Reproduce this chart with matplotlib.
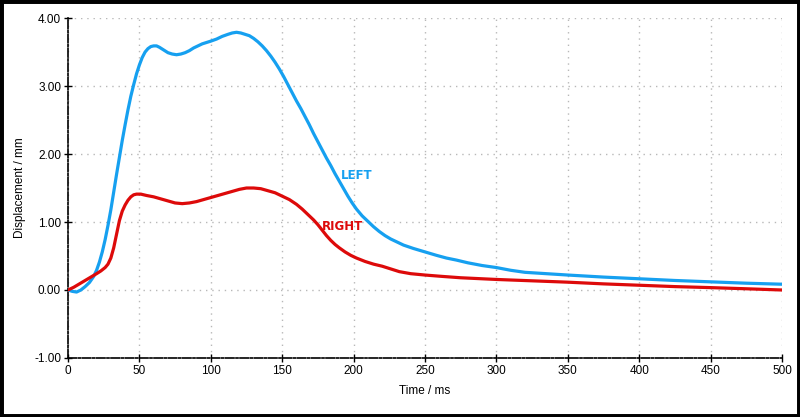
import matplotlib
matplotlib.use("Agg")
import matplotlib.pyplot as plt
from matplotlib.patches import Rectangle

left_t = [0, 3, 6, 9, 12, 15, 18, 20, 22, 24, 26, 28, 30, 32, 34, 36, 38, 40, 42, 44, 46,
          48, 50, 52, 54, 56, 58, 60, 62, 64, 67, 70, 73, 76, 79, 82, 85, 88, 91, 94, 97,
          100, 104, 108, 112, 115, 118, 121, 124, 127, 130, 133, 136, 139, 142, 145, 148,
          151, 154, 157, 160, 163, 166, 169, 172, 175, 178, 181, 184, 187, 190, 193, 196,
          199, 202, 206, 210, 214, 218, 222, 226, 230, 235, 242, 250, 258, 265, 272, 280,
          290, 300, 310, 320, 335, 350, 375, 400, 425, 450, 475, 500]
left_y = [0.0, -0.02, -0.03, 0.0, 0.05, 0.11, 0.20, 0.29, 0.41, 0.56, 0.74, 0.95, 1.18,
          1.44, 1.70, 1.95, 2.2, 2.43, 2.65, 2.85, 3.02, 3.18, 3.31, 3.42, 3.5, 3.55, 3.58,
          3.59, 3.59, 3.57, 3.53, 3.49, 3.47, 3.46, 3.47, 3.49, 3.52, 3.56, 3.59, 3.62, 3.64,
          3.66, 3.69, 3.73, 3.76, 3.78, 3.79, 3.78, 3.76, 3.74, 3.70, 3.65, 3.59, 3.52, 3.44,
          3.35, 3.25, 3.14, 3.02, 2.90, 2.78, 2.67, 2.55, 2.43, 2.3, 2.18, 2.06, 1.94, 1.83,
          1.71, 1.6, 1.49, 1.38, 1.28, 1.19, 1.09, 1.01, 0.93, 0.86, 0.80, 0.75, 0.71, 0.66,
          0.61, 0.56, 0.51, 0.47, 0.44, 0.40, 0.36, 0.33, 0.29, 0.26, 0.24, 0.22, 0.19,
          0.165, 0.14, 0.12, 0.10, 0.085]

right_t = [0, 4, 8, 12, 16, 20, 23, 26, 28, 30, 32, 34, 36, 38, 40, 42, 44, 46, 48, 51, 55,
           60, 65, 70, 75, 80, 85, 90, 95, 100, 105, 110, 115, 120, 125, 130, 135, 140,
           145, 150, 155, 160, 164, 168, 172, 175, 178, 181, 184, 187, 190, 194, 198, 202,
           208, 214, 220, 226, 232, 240, 250, 262, 275, 300, 325, 350, 375, 400, 425, 450,
           475, 500]
right_y = [0.0, 0.04, 0.09, 0.14, 0.19, 0.24, 0.28, 0.33, 0.38, 0.47, 0.62, 0.82, 1.02,
           1.16, 1.25, 1.32, 1.37, 1.40, 1.41, 1.41, 1.39, 1.37, 1.34, 1.31, 1.28, 1.27,
           1.28, 1.30, 1.33, 1.36, 1.39, 1.42, 1.45, 1.48, 1.50, 1.50, 1.49, 1.46, 1.43,
           1.38, 1.33, 1.26, 1.19, 1.11, 1.03, 0.96, 0.88, 0.80, 0.73, 0.67, 0.62, 0.56,
           0.51, 0.47, 0.42, 0.38, 0.35, 0.31, 0.27, 0.24, 0.22, 0.20, 0.18, 0.155, 0.135,
           0.115, 0.09, 0.07, 0.05, 0.035, 0.018, 0.0]

x_ticks = list(range(0, 501, 50))
y_ticks = [-1, 0, 1, 2, 3, 4]

BLUE = "#16a0f0"
RED = "#dd0a0a"

plt.rcParams['font.family'] = ['Liberation Sans', 'DejaVu Sans']

fig = plt.figure(figsize=(8.0, 4.17), dpi=100)
ax = fig.add_axes([0.085, 0.1415, 0.8925, 0.8153])

ax.plot(left_t, left_y, color=BLUE, lw=2.3, solid_capstyle='round',
        solid_joinstyle='round', zorder=3)
ax.plot(right_t, right_y, color=RED, lw=2.3, solid_capstyle='round',
        solid_joinstyle='round', zorder=3)

ax.set_xlim(0, 500)
ax.set_ylim(-1, 4)
ax.set_xticks(x_ticks)
ax.set_yticks(y_ticks)
ax.set_yticklabels([f"{v:.2f}" for v in y_ticks])
ax.tick_params(direction='inout', length=6, width=1, colors='black', labelsize=8.5, pad=2)

ax.grid(True, linestyle=(0, (1, 3.5)), color='#b8b8b8', linewidth=1)
ax.set_axisbelow(True)

for s in ['top', 'right']:
    ax.spines[s].set_visible(False)
for s in ['left', 'bottom']:
    ax.spines[s].set_linestyle((0, (5, 1.2, 1.2, 1.2)))
    ax.spines[s].set_linewidth(1.2)
    ax.spines[s].set_color('black')

ax.set_xlabel("Time / ms", fontsize=8.5, labelpad=6)
ax.set_ylabel("Displacement / mm", fontsize=8.5, labelpad=6)

ax.text(202, 1.69, "LEFT", color=BLUE, fontsize=8.5, fontweight='bold',
        ha='center', va='center', family='DejaVu Sans')
ax.text(192.5, 0.94, "RIGHT", color=RED, fontsize=8.5, fontweight='bold',
        ha='center', va='center', family='DejaVu Sans')

fig.patches.append(Rectangle((0, 0), 1, 1, transform=fig.transFigure, fill=False,
                             edgecolor='black', linewidth=5, zorder=10))

fig.savefig("out.png", dpi=100, facecolor='white')
